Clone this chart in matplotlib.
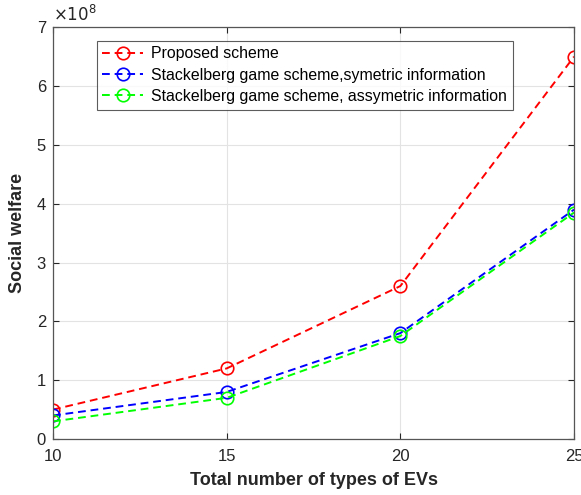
import matplotlib.pyplot as plt

plt.rcParams['font.family'] = ['Liberation Sans', 'DejaVu Sans']

n_types = [10, 15, 20, 25]
proposed = [0.5, 1.2, 2.6, 6.5]
stackel_sym = [0.4, 0.8, 1.8, 3.9]
stackel_asym = [0.3, 0.7, 1.75, 3.85]
labels = ['Proposed scheme',
          'Stackelberg game scheme,symetric information',
          'Stackelberg game scheme, assymetric information']
colors = ['red', 'blue', 'lime']

fig = plt.figure(figsize=(5.81, 4.95), dpi=100)
ax = fig.add_axes([0.0912, 0.1131, 0.8968, 0.8319])

for ys, lab, c in zip([proposed, stackel_sym, stackel_asym], labels, colors):
    ax.plot(n_types, [v * 1e8 for v in ys], '--o', color=c, mfc='none',
            ms=9, lw=1.4, mew=1.2, dashes=(4, 2.5), label=lab)

ax.set_xlim(10, 25)
ax.set_ylim(0, 7e8)
ax.set_xticks([10, 15, 20, 25])
ax.set_yticks([i * 1e8 for i in range(8)])
ax.set_yticklabels([str(i) for i in range(8)])
ax.grid(True, color='#e3e3e3', lw=0.8)
ax.set_axisbelow(True)
for s in ax.spines.values():
    s.set_color('#555555')
    s.set_linewidth(0.9)
ax.tick_params(direction='in', top=True, right=True, length=4,
               labelsize=12, colors='#262626', width=0.8)
ax.tick_params(axis='x', pad=7)
ax.tick_params(axis='y', pad=5)
ax.set_xlabel('Total number of types of EVs', fontsize=13, fontweight='bold',
              color='#262626', labelpad=6)
ax.set_ylabel('Social welfare', fontsize=13, fontweight='bold',
              color='#262626', labelpad=8)
ax.text(0.0, 1.008, r'$\times10^{8}$', transform=ax.transAxes, fontsize=12,
        color='#262626', ha='left', va='bottom')

leg = ax.legend(loc='upper left', bbox_to_anchor=(0.084, 0.967), fontsize=11.4,
                frameon=True, fancybox=False, edgecolor='#333333',
                handlelength=2.6, borderpad=0.35, labelspacing=0.4,
                handletextpad=0.5, borderaxespad=0)
leg.get_frame().set_linewidth(0.8)

fig.savefig('out.png', dpi=100)
